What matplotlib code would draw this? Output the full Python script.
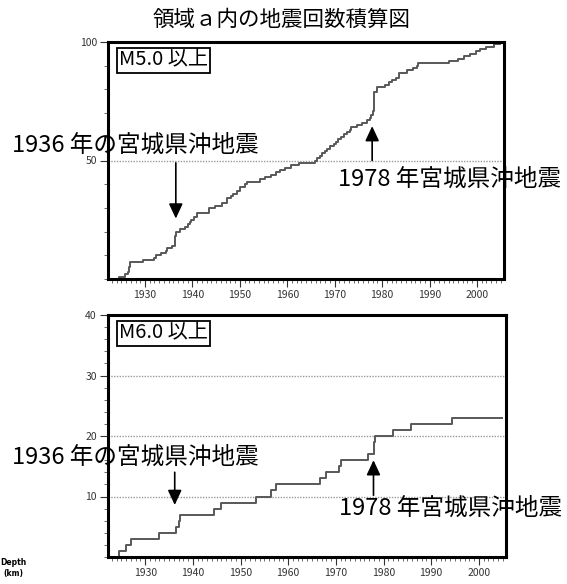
import numpy as np
import matplotlib
matplotlib.use("Agg")
import matplotlib.pyplot as plt
from matplotlib.ticker import MultipleLocator

plt.rcParams['font.family'] = ['Noto Sans CJK JP', 'DejaVu Sans']

# event years (one entry per earthquake)
m5_years = [1924.6, 1925.8, 1926.5, 1926.6, 1926.7, 1926.8, 1926.9, 1929.6,
            1932.0, 1932.4, 1933.3, 1934.5, 1934.6, 1935.6,
            1936.3, 1936.3, 1936.4, 1936.4, 1936.5, 1936.5,
            1937.4, 1938.4, 1939.0, 1939.5, 1939.6, 1940.3, 1940.9, 1941.0,
            1943.4, 1943.5, 1944.8, 1946.2, 1947.2, 1947.3, 1948.2, 1948.6,
            1949.4, 1950.0, 1950.1, 1951.0, 1951.5, 1954.3, 1955.3, 1956.5,
            1957.6, 1958.5, 1959.6, 1960.8, 1962.5, 1965.8, 1966.2, 1966.8,
            1967.3, 1967.9, 1968.4, 1969.1, 1969.8, 1970.3, 1970.8, 1971.4,
            1971.9, 1972.6, 1973.3, 1973.4, 1974.7, 1975.8, 1976.8, 1977.5,
            1977.6, 1978.0, 1978.1,
            1978.3, 1978.3, 1978.3, 1978.3, 1978.3, 1978.3, 1978.3, 1978.3,
            1978.9, 1979.0, 1980.7, 1981.5, 1982.1, 1983.0, 1983.5, 1983.6,
            1985.2, 1986.6, 1987.4, 1987.5, 1994.0, 1996.0, 1997.2, 1998.6,
            1999.8, 2000.7, 2002.0, 2003.5]
m6_years = [1924.6, 1926.0, 1927.0, 1933.0, 1936.5, 1937.0, 1937.3, 1944.4,
            1946.0, 1953.3, 1956.5, 1957.5, 1966.6, 1968.0, 1970.6, 1971.0,
            1976.7, 1978.0, 1978.1, 1978.2, 1982.0, 1985.8, 1994.3]
end_year = 2004.9

panels = [
    # box label, years, ymax, major, minor, grid lines
    ("M5.0 以上", m5_years, 100, 50, 10, [50]),
    ("M6.0 以上", m6_years, 40, 10, 2, [10, 20, 30]),
]
# (x1936, y_tail, y_head, x1978, y_tail, y_head, text1936_y, text1978_y)
arrows = [
    (1936.5, 49, 25.5, 1977.9, 50, 64.5, 56.5, 42.0),
    (1936.2, 14, 8.6, 1977.9, 10.2, 16.0, 16.5, 8.1),
]

W, H = 567, 584
fig = plt.figure(figsize=(W / 100, H / 100), dpi=100)
rects = [(108, 42, 504, 279), (108, 315, 506, 557)]

for (label, years, ymax, major, minor, grid), r, ar in zip(panels, rects, arrows):
    l, t, rr, b = r
    ax = fig.add_axes([l / W, 1 - b / H, (rr - l) / W, (b - t) / H])
    xs = [years[0] - 0.2] + years + [end_year]
    ys = [0] + list(range(1, len(years) + 1)) + [len(years)]
    ax.step(xs, ys, where='post', color='#585858', lw=1.4)
    for g in grid:
        ax.axhline(g, color='#999999', lw=1.0, ls=(0, (1, 1)), zorder=0)
    ax.set_xlim(1922.2, 2005.7)
    ax.set_ylim(0, ymax)
    ax.xaxis.set_minor_locator(MultipleLocator(1))
    ax.set_xticks(np.arange(1930, 2001, 10))
    ax.yaxis.set_minor_locator(MultipleLocator(minor))
    ax.set_yticks(np.arange(major, ymax + 1, major))
    ax.tick_params(which='major', direction='out', length=6, width=0.8,
                   labelsize=7.5, labelcolor='#333333', color='#333333', pad=2)
    ax.tick_params(which='minor', direction='out', length=3, width=0.6,
                   color='#555555')
    for s in ax.spines.values():
        s.set_linewidth(2.2)
        s.set_color('black')
    ax.text(0.028, 0.968, label, transform=ax.transAxes, ha='left', va='top',
            fontsize=14.5,
            bbox=dict(boxstyle='square,pad=0.1', fc='white', ec='black', lw=1.3))

    x1, t1, h1, x2, t2, h2, ty1, ty2 = ar
    ap = dict(arrowstyle='-|>,head_length=0.9,head_width=0.42', color='black',
              lw=1.2, mutation_scale=10, shrinkA=0, shrinkB=0)
    ax.annotate('', xy=(x1, h1), xytext=(x1, t1), arrowprops=ap,
                annotation_clip=False)
    ax.annotate('', xy=(x2, h2), xytext=(x2, t2), arrowprops=ap,
                annotation_clip=False)
    ax.text(1902.0, ty1, "1936 年の宮城県沖地震", fontsize=17, ha='left',
            va='center', clip_on=False)
    ax.text(1970.7, ty2, "1978 年宮城県沖地震", fontsize=17, ha='left',
            va='center', clip_on=False)

fig.text(282 / W, 1 - 20 / H, "領域ａ内の地震回数積算図", fontsize=15.5,
         ha='center', va='center')
fig.text(13 / W, 1 - 568 / H, "Depth\n(km)", fontsize=5.5, fontweight='bold',
         family='DejaVu Sans', ha='center', va='center', multialignment='center')

fig.savefig("out.png", dpi=100)
